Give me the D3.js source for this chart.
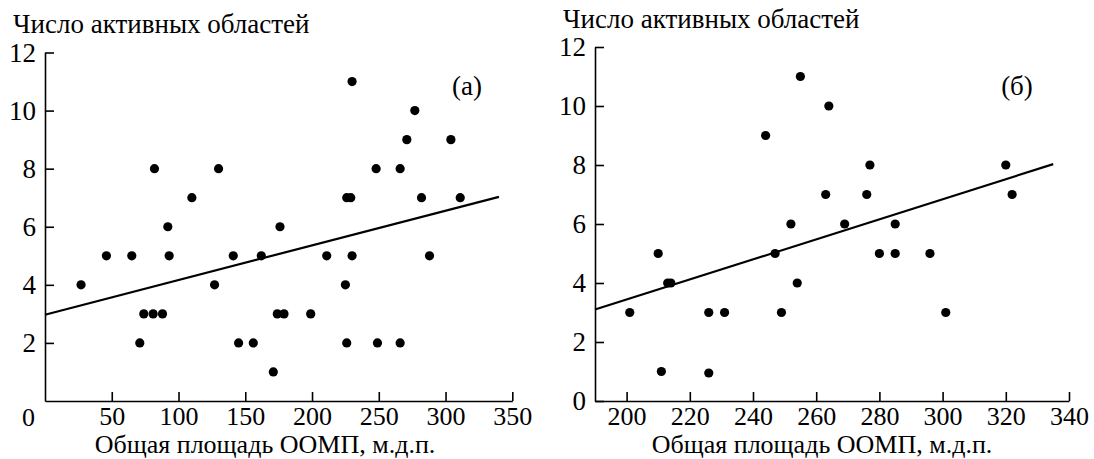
<!DOCTYPE html>
<html>
<head>
<meta charset="utf-8">
<script src="https://cdn.jsdelivr.net/npm/d3@7"></script>
<style>
  body { margin: 0; background: #fff; }
  svg text { font-family: "Liberation Serif", Tinos, "Times New Roman", Times, "DejaVu Serif", serif; font-size: 27px; fill: #000; }
  svg text.bottom { font-size: 26px; }
  .axis path, .axis line { stroke: #000; stroke-width: 1.6px; }
</style>
</head>
<body>
<script>
var w = 1094;
var h = 459;

// (a) all points
var aX = [230, 277, 271, 304, 82, 130, 248, 266, 110, 226, 229, 282, 311, 92, 176,
  46, 65, 93, 141, 162, 211, 230, 288, 27, 127, 225,
  74, 81, 88, 174, 179, 199, 71, 145, 156, 226, 249, 266, 171];
var aY = [11, 10, 9, 9, 8, 8, 8, 8, 7, 7, 7, 7, 7, 6, 6,
  5, 5, 5, 5, 5, 5, 5, 5, 4, 4, 4,
  3, 3, 3, 3, 3, 3, 2, 2, 2, 2, 2, 2, 1];
var aTrend = [[0, 2.97], [340, 7.03]];

// (б)
var bX = [255, 264, 244, 277, 320, 263, 276, 322, 252, 269, 285,
  210, 247, 280, 285, 296, 213, 214, 254,
  201, 226, 231, 249, 301, 211, 226];
var bY = [11, 10, 9, 8, 8, 7, 7, 7, 6, 6, 6,
  5, 5, 5, 5, 5, 4, 4, 4,
  3, 3, 3, 3, 3, 1, 0.95];
var bTrend = [[190, 3.1], [335, 8.03]];

var aXTicks = [50, 100, 150, 200, 250, 300, 350];
var aYTicks = [2, 4, 6, 8, 10, 12];
var bXTicks = [200, 220, 240, 260, 280, 300, 320, 340];
var bYTicks = [0, 2, 4, 6, 8, 10, 12];

var yTitle = 'Число активных областей';
var xTitle = 'Общая площадь ООМП, м.д.п.';

var svg = d3.select('body').append('svg')
  .attr('width', w)
  .attr('height', h);

function panel(p) {
  var x = d3.scaleLinear().domain(p.xDomain).range(p.xRange);
  var y = d3.scaleLinear().domain([0, 12]).range(p.yRange);
  var g = svg.append('g');

  g.append('g')
    .attr('class', 'axis')
    .attr('transform', 'translate(0,' + p.yRange[0] + ')')
    .call(d3.axisBottom(x).tickValues(p.xTicks).tickSize(-9).tickSizeOuter(0).tickPadding(6))
    .selectAll('text').attr('class', 'bottom');

  g.append('g')
    .attr('class', 'axis')
    .attr('transform', 'translate(' + p.xRange[0] + ',0)')
    .call(d3.axisLeft(y).tickValues(p.yTicks).tickSize(-9).tickSizeOuter(0).tickPadding(9));

  // let the css font win over d3's axis defaults
  g.selectAll('.axis').attr('font-family', null).attr('font-size', null);

  if (p.zeroLabel) {
    g.append('text')
      .attr('class', 'bottom')
      .attr('x', x(p.xDomain[0]) - 10)
      .attr('y', p.yRange[0] + 24.5)
      .attr('text-anchor', 'end')
      .text('0');
  }

  g.append('line')
    .attr('x1', x(p.trend[0][0])).attr('y1', y(p.trend[0][1]))
    .attr('x2', x(p.trend[1][0])).attr('y2', y(p.trend[1][1]))
    .attr('stroke', '#000')
    .attr('stroke-width', 2.2);

  g.selectAll('circle')
    .data(p.xs)
    .enter().append('circle')
    .attr('cx', function(d) { return x(d); })
    .attr('cy', function(d, i) { return y(p.ys[i]); })
    .attr('r', 4.6)
    .attr('fill', '#000');

  g.append('text')
    .attr('x', p.xRange[0] - 32)
    .attr('y', p.titleY)
    .text(yTitle);

  g.append('text')
    .attr('class', 'bottom')
    .attr('x', p.xTitleX)
    .attr('y', 453)
    .attr('text-anchor', 'middle')
    .text(xTitle);

  g.append('text')
    .attr('x', p.tagX)
    .attr('y', p.tagY)
    .attr('text-anchor', 'middle')
    .text(p.tag);
}

panel({
  xDomain: [0, 350], xRange: [45, 512.3], yRange: [401, 52.5],
  xTicks: aXTicks, yTicks: aYTicks, xs: aX, ys: aY, trend: aTrend,
  zeroLabel: true, titleY: 33, xTitleX: 265, tag: '(a)', tagX: 467, tagY: 95
});

panel({
  xDomain: [190, 340], xRange: [595, 1069], yRange: [401, 47],
  xTicks: bXTicks, yTicks: bYTicks, xs: bX, ys: bY, trend: bTrend,
  zeroLabel: false, titleY: 28, xTitleX: 822, tag: '(б)', tagX: 1017, tagY: 95
});
</script>
</body>
</html>
